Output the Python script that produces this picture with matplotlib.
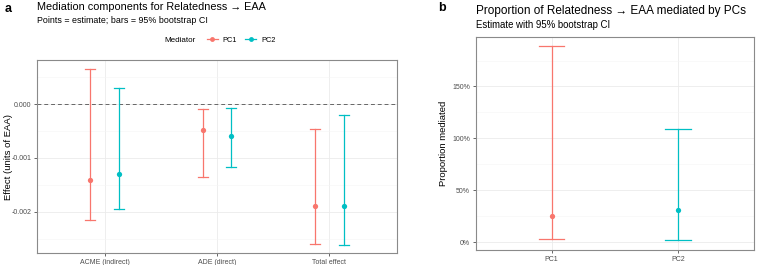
import matplotlib.pyplot as plt
from matplotlib.lines import Line2D
from matplotlib.ticker import MultipleLocator

plt.rcParams["font.family"] = ["Liberation Sans", "DejaVu Sans"]

# Panel a: mediation components
components = ["ACME (indirect)", "ADE (direct)", "Total effect"]
pc1_est = [-0.00141, -0.00048, -0.00189]
pc1_lo = [-0.00215, -0.00135, -0.00260]
pc1_hi = [0.00066, -0.00009, -0.00046]
pc2_est = [-0.00129, -0.00060, -0.00189]
pc2_lo = [-0.00194, -0.00117, -0.00261]
pc2_hi = [0.00031, -0.00007, -0.00021]

# Panel b: proportion mediated
mediators = ["PC1", "PC2"]
prop_est = [0.253, 0.314]
prop_lo = [0.029, 0.019]
prop_hi = [1.886, 1.095]

red = "#F8766D"
teal = "#00BFC4"
tick_col = "#4D4D4D"
grid_major = "#EBEBEB"
grid_minor = "#F5F5F5"
border = "#8A8A8A"


def style_axes(ax):
    ax.set_facecolor("white")
    for s in ax.spines.values():
        s.set_color(border)
        s.set_linewidth(0.8)
    ax.grid(which="major", color=grid_major, linewidth=0.6)
    ax.grid(which="minor", axis="y", color=grid_minor, linewidth=0.4)
    ax.set_axisbelow(True)
    ax.tick_params(axis="both", which="major", labelsize=5, colors=tick_col,
                   length=2.5, width=0.6, pad=1.5)
    ax.tick_params(axis="both", which="minor", length=0)


def draw_ci(ax, x, est, lo, hi, color, cap):
    for xi, e, l, h in zip(x, est, lo, hi):
        ax.plot([xi, xi], [l, h], color=color, lw=0.9, zorder=2)
        ax.plot([xi - cap, xi + cap], [l, l], color=color, lw=0.9, zorder=2)
        ax.plot([xi - cap, xi + cap], [h, h], color=color, lw=0.9, zorder=2)
        ax.plot(xi, e, "o", color=color, ms=3.8, mec="none", zorder=3)


fig = plt.figure(figsize=(7.57, 2.65), dpi=100)

# ---- panel a
ax1 = fig.add_axes([0.0489, 0.044, 0.4755, 0.730])
style_axes(ax1)
xs = list(range(len(components)))
dodge = 0.128
ax1.axhline(0, color="#666666", lw=0.7, ls=(0, (4, 3)), zorder=1)
draw_ci(ax1, [x - dodge for x in xs], pc1_est, pc1_lo, pc1_hi, red, 0.045)
draw_ci(ax1, [x + dodge for x in xs], pc2_est, pc2_lo, pc2_hi, teal, 0.045)
ax1.set_xlim(-0.6, len(components) - 0.4)
ax1.set_xticks(xs)
ax1.set_xticklabels(components)
ymin = min(pc1_lo + pc2_lo)
ymax = max(pc1_hi + pc2_hi)
pad = (ymax - ymin) * 0.05
ax1.set_ylim(ymin - pad, ymax + pad)
yt = [0.0, -0.001, -0.002]
ax1.set_yticks(yt)
ax1.set_yticklabels([f"{v:.3f}" for v in yt])
ax1.yaxis.set_minor_locator(MultipleLocator(0.0005))
ax1.set_ylabel("Effect (units of EAA)", fontsize=6.8)
ax1.yaxis.set_label_coords(-0.068, 0.5)

fig.text(0.006, 0.965, "a", fontsize=9, fontweight="bold", va="center")
fig.text(0.049, 0.972, "Mediation components for Relatedness \u2192 EAA",
         fontsize=7.8, va="center")
fig.text(0.049, 0.922, "Points = estimate; bars = 95% bootstrap CI",
         fontsize=6.4, va="center")

# legend
fig.text(0.2165, 0.849, "Mediator", fontsize=5.8, va="center")
handles = [Line2D([], [], color=red, lw=0.9, marker="o", ms=3.5, mec="none"),
           Line2D([], [], color=teal, lw=0.9, marker="o", ms=3.5, mec="none")]
fig.legend(handles, mediators, loc="center left", bbox_to_anchor=(0.268, 0.849),
           ncol=2, frameon=False, fontsize=5.3, handlelength=1.5,
           handletextpad=0.7, columnspacing=1.1, borderpad=0)

# ---- panel b
ax2 = fig.add_axes([0.6284, 0.0566, 0.3676, 0.8049])
style_axes(ax2)
xb = list(range(len(mediators)))
draw_ci(ax2, [xb[0]], [prop_est[0]], [prop_lo[0]], [prop_hi[0]], red, 0.1)
draw_ci(ax2, [xb[1]], [prop_est[1]], [prop_lo[1]], [prop_hi[1]], teal, 0.1)
ax2.set_xlim(-0.6, len(mediators) - 0.4)
ax2.set_xticks(xb)
ax2.set_xticklabels(mediators)
bmin = min(prop_lo)
bmax = max(prop_hi)
bpad = (bmax - bmin) * 0.05
ax2.set_ylim(bmin - bpad, bmax + bpad)
bt = [0.0, 0.5, 1.0, 1.5]
ax2.set_yticks(bt)
ax2.set_yticklabels([f"{int(v * 100)}%" for v in bt])
ax2.yaxis.set_minor_locator(MultipleLocator(0.25))
ax2.set_ylabel("Proportion mediated", fontsize=6.8)
ax2.yaxis.set_label_coords(-0.101, 0.5)

fig.text(0.579, 0.968, "b", fontsize=9, fontweight="bold", va="center")
fig.text(0.629, 0.957, "Proportion of Relatedness \u2192 EAA mediated by PCs",
         fontsize=8.5, va="center")
fig.text(0.629, 0.905, "Estimate with 95% bootstrap CI", fontsize=6.9, va="center")

fig.savefig("out.png", dpi=100, facecolor="white")
